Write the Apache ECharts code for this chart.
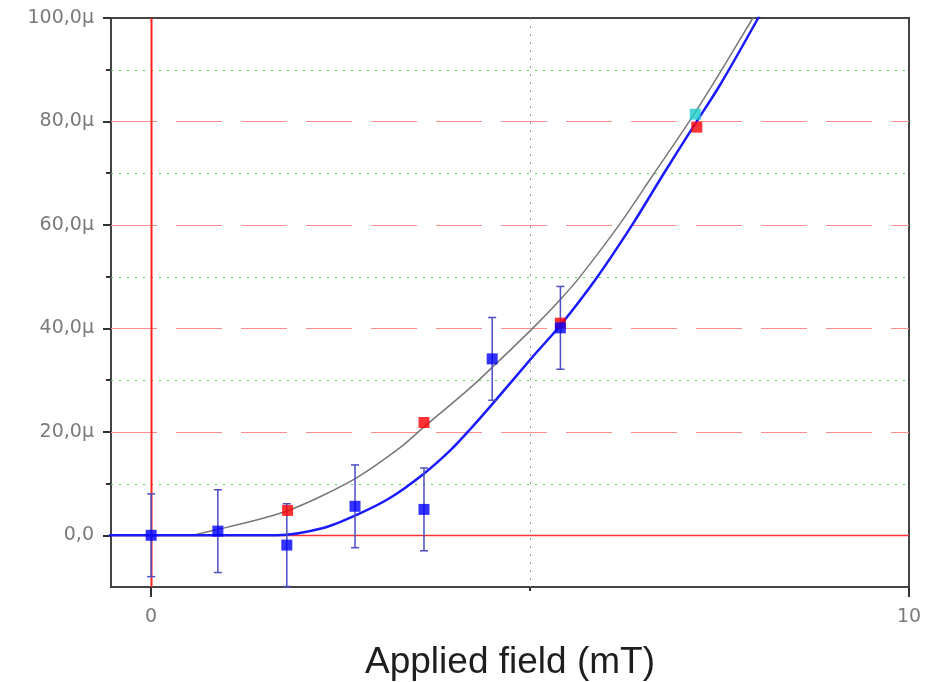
<!DOCTYPE html>
<html>
<head>
<meta charset="utf-8">
<script src="https://cdn.jsdelivr.net/npm/echarts@6/dist/echarts.min.js"></script>
<style>
  html, body { margin: 0; padding: 0; background: #fff; }
  #chart { width: 938px; height: 682px; }
</style>
</head>
<body>
<div id="chart"></div>
<script>
// measured points (y in micro units)
const blueX = [0, 0.88, 1.79, 2.69, 3.6, 4.5, 5.4];
const blueY = [0, 0.8, -1.9, 5.6, 5.0, 34.1, 40.1];
const blueErr = [8, 8, 8, 8, 8, 8, 8];
const redX = [1.8, 3.6, 5.4, 7.2];
const redY = [4.8, 21.8, 41.0, 78.9];
const cyanX = [7.18];
const cyanY = [81.4];

// fitted curves
const grayCurve = [
  [0.55, 0], [0.87, 1.1], [1.3, 2.6], [1.79, 4.7], [2.25, 7.6], [2.72, 11.2], [3.28, 16.9],
  [3.59, 20.8], [4.21, 28.5], [4.51, 32.6], [5.04, 40.1], [5.4, 45.6], [5.66, 50.0],
  [6.19, 60.3], [6.62, 69.6], [7.11, 80.2], [7.5, 89.3], [7.94, 100], [8.1, 104]
];
const blueCurve = [
  [-0.6, 0], [1.66, 0], [2.27, 1.4], [2.72, 4.0], [3.15, 7.2], [3.59, 11.8], [3.94, 16.3],
  [4.21, 20.5], [4.51, 25.5], [5.04, 34.6], [5.4, 40.6], [5.88, 49.8], [6.36, 60.3],
  [6.75, 69.6], [7.15, 78.9], [7.5, 86.9], [8.01, 100], [8.15, 104]
];

const yMajor = [20, 40, 60, 80];
const yMinor = [10, 30, 50, 70, 90];
const yLabels = [0, 20, 40, 60, 80, 100];
const xLabels = [0, 10];
const xMid = [5];

const xMin = -0.53, xMax = 10, yMin = -10, yMax = 100;

const chart = echarts.init(document.getElementById('chart'));

// horizontal or vertical reference line across the whole plot
function refLines(name, values, dir, style, z) {
  return {
    name, type: 'custom', silent: true, z,
    data: values.map(v => dir === 'h' ? [0, v] : [v, 0]),
    renderItem: (params, api) => {
      const cs = params.coordSys;
      const p = api.coord([api.value(0), api.value(1)]);
      const px = Math.round(p[0]) + 0.5, py = Math.round(p[1]) + 0.5;
      const shape = dir === 'h'
        ? { x1: cs.x, y1: py, x2: cs.x + cs.width, y2: py }
        : { x1: px, y1: cs.y, x2: px, y2: cs.y + cs.height };
      return { type: 'line', shape, style };
    }
  };
}

const labelFont = 'DejaVu Sans, Verdana, sans-serif';

const option = {
  animation: false,
  textStyle: { fontFamily: 'Liberation Sans, Arial, sans-serif' },
  grid: {
    left: 111, right: 29, top: 18, bottom: 95,
    outerBoundsMode: 'none',
    show: true, borderColor: '#444', borderWidth: 2, backgroundColor: '#fff'
  },
  xAxis: [
    {
      type: 'value', min: xMin, max: xMax,
      name: 'Applied field (mT)', nameLocation: 'middle', nameGap: 57,
      nameTextStyle: { fontSize: 37, color: '#1e1e1e', fontFamily: 'Liberation Sans, Arial, sans-serif' },
      axisLine: { show: true, onZero: false, lineStyle: { color: '#444', width: 2 } },
      axisTick: { show: true, length: 10, customValues: xLabels, lineStyle: { color: '#333', width: 2 } },
      axisLabel: { customValues: xLabels, margin: 21, fontSize: 19, color: '#7a7a7a', fontFamily: labelFont },
      splitLine: { show: false }
    },
    {
      type: 'value', min: xMin, max: xMax, position: 'bottom',
      axisLine: { show: false, onZero: false },
      axisTick: { show: true, length: 4, customValues: xMid, lineStyle: { color: '#333', width: 2 } },
      axisLabel: { show: false },
      splitLine: { show: false }
    }
  ],
  yAxis: [
    {
      type: 'value', min: yMin, max: yMax,
      axisLine: { show: true, onZero: false, lineStyle: { color: '#444', width: 2 } },
      axisTick: { show: true, length: 8, customValues: yLabels, lineStyle: { color: '#333', width: 2 } },
      axisLabel: {
        customValues: yLabels, margin: 17, fontSize: 19, color: '#7a7a7a', fontFamily: labelFont,
        formatter: v => v === 0 ? '0,0' : v.toFixed(1).replace('.', ',') + 'μ'
      },
      splitLine: { show: false }
    },
    {
      type: 'value', min: yMin, max: yMax, position: 'left',
      axisLine: { show: false, onZero: false },
      axisTick: { show: true, length: 5, customValues: yMinor, lineStyle: { color: '#333', width: 2 } },
      axisLabel: { show: false },
      splitLine: { show: false }
    }
  ],
  series: [
    refLines('major', yMajor, 'h', { stroke: '#ff8c8c', lineWidth: 1, lineDash: [46, 19] }, 1),
    refLines('minor', yMinor, 'h', { stroke: '#4fd84f', lineWidth: 1, lineDash: [2, 6] }, 1),
    refLines('mid', xMid, 'v', { stroke: '#999999', lineWidth: 1, lineDash: [2, 6] }, 1),
    refLines('zeroY', [0], 'h', { stroke: '#ff3030', lineWidth: 1.5 }, 2),
    refLines('zeroX', [0], 'v', { stroke: '#ff2020', lineWidth: 2 }, 2),
    {
      name: 'fit1', type: 'line', data: grayCurve, smooth: 0.3, showSymbol: false, clip: true,
      lineStyle: { color: '#777', width: 1.5 }, z: 3
    },
    {
      name: 'fit2', type: 'line', data: blueCurve, smooth: 0.3, showSymbol: false, clip: true,
      lineStyle: { color: '#1a1aff', width: 2.5 }, z: 4
    },
    {
      name: 'err', type: 'custom', z: 5,
      data: blueX.map((x, i) => [x, blueY[i] - blueErr[i], blueY[i] + blueErr[i]]),
      renderItem: (params, api) => {
        const x = api.value(0);
        const lo = api.coord([x, Math.max(api.value(1), yMin)]);
        const loCap = api.value(1) >= yMin;
        const hi = api.coord([x, Math.min(api.value(2), yMax)]);
        const style = { stroke: '#4d4dc4', lineWidth: 1.5 };
        const children = [
          { type: 'line', shape: { x1: lo[0], y1: lo[1], x2: hi[0], y2: hi[1] }, style },
          { type: 'line', shape: { x1: hi[0] - 4, y1: hi[1], x2: hi[0] + 4, y2: hi[1] }, style }
        ];
        if (loCap) {
          children.push({ type: 'line', shape: { x1: lo[0] - 4, y1: lo[1], x2: lo[0] + 4, y2: lo[1] }, style });
        }
        return { type: 'group', children };
      }
    },
    {
      name: 'cyan', type: 'scatter', symbol: 'rect', symbolSize: 11, z: 6,
      data: cyanX.map((x, i) => [x, cyanY[i]]),
      itemStyle: { color: '#1ccccc' }
    },
    {
      name: 'red', type: 'scatter', symbol: 'rect', symbolSize: 11, z: 7,
      data: redX.map((x, i) => [x, redY[i]]),
      itemStyle: { color: '#ff0000' }
    },
    {
      name: 'blue', type: 'scatter', symbol: 'rect', symbolSize: 11, z: 8,
      data: blueX.map((x, i) => [x, blueY[i]]),
      itemStyle: { color: '#0000ff' }
    }
  ]
};
chart.setOption(option);
</script>
</body>
</html>
